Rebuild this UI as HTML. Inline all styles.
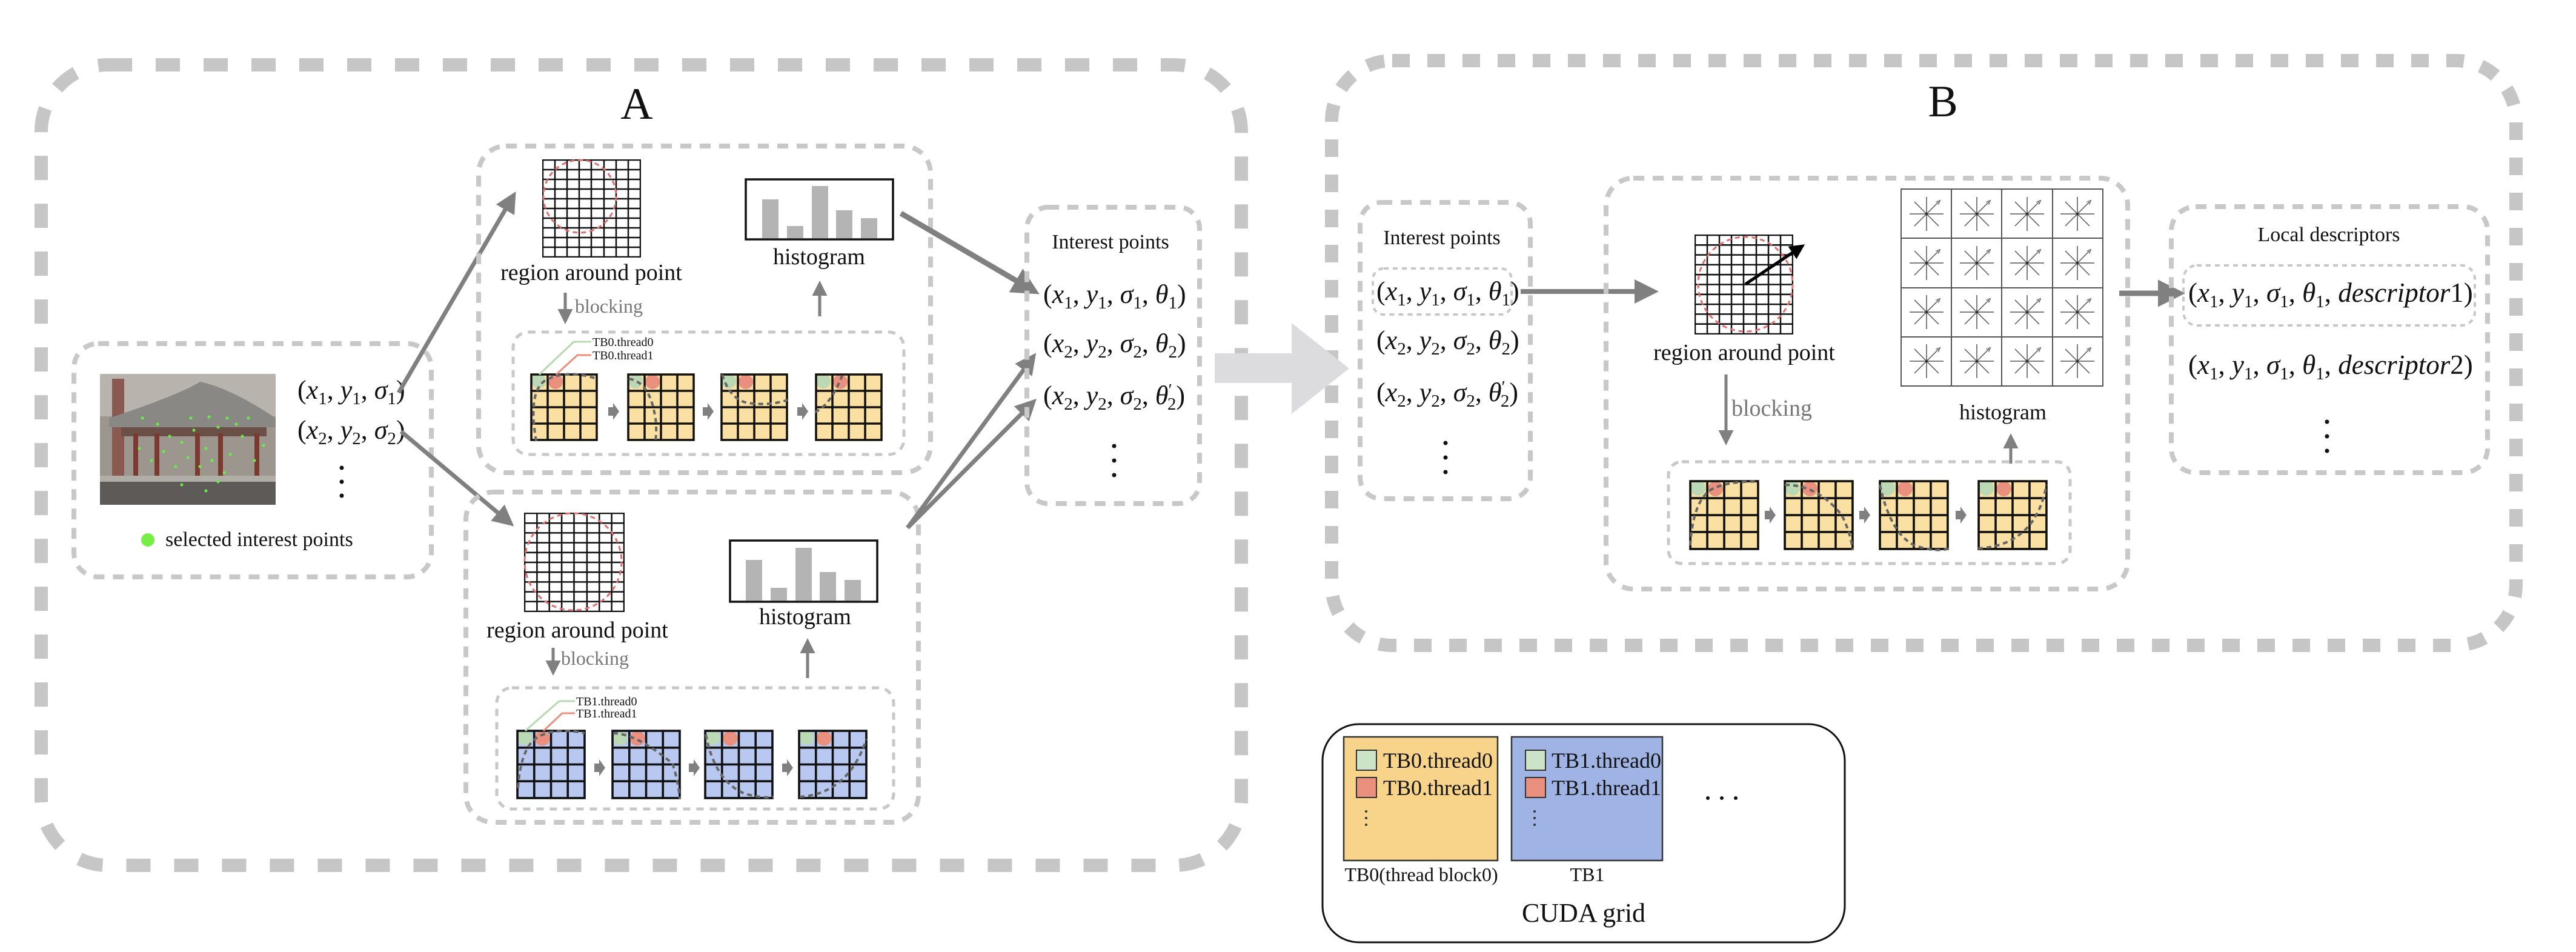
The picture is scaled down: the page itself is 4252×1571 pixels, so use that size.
<!DOCTYPE html>
<html><head><meta charset="utf-8"><style>
html,body{margin:0;padding:0;background:#fff}
svg{display:block;font-family:"Liberation Serif","Times New Roman",Times,serif}
svg text{font-family:"Liberation Serif","Times New Roman",Times,serif;fill:#111}
.i{font-style:italic}
.s{font-size:29px;font-style:normal}
</style></head><body>
<svg width="4252" height="1571" viewBox="0 0 4252 1571" xmlns="http://www.w3.org/2000/svg" font-family="Liberation Serif, Times New Roman, serif">
<defs>
<marker id="ah" viewBox="0 0 10 10" refX="8" refY="5" markerWidth="5" markerHeight="5" orient="auto"><path d="M0,0 L10,5 L0,10 z" fill="#808080"/></marker>
<marker id="ahk" viewBox="0 0 10 10" refX="8" refY="5" markerWidth="5" markerHeight="5" orient="auto"><path d="M0,0 L10,5 L0,10 z" fill="#000"/></marker>
<marker id="sa" viewBox="0 0 10 10" refX="5" refY="5" markerWidth="5" markerHeight="5" orient="auto"><path d="M0,1 L10,5 L0,9" fill="none" stroke="#555" stroke-width="1.5"/></marker>
<symbol id="gy" viewBox="0 0 112 112">
<rect x="0" y="0" width="112" height="112" fill="#fbe0a3"/>
<ellipse cx="14" cy="13" rx="12" ry="12" fill="#bcd9b6"/>
<ellipse cx="42" cy="14" rx="12" ry="12" fill="#e9907e"/>
<path d="M2,2H110V110H2Z M29,2V110 M56,2V110 M83,2V110 M2,29H110 M2,56H110 M2,83H110" fill="none" stroke="#111" stroke-width="3.5"/>
</symbol>
<symbol id="gb" viewBox="0 0 112 112">
<rect x="0" y="0" width="112" height="112" fill="#b9c8f0"/>
<ellipse cx="14" cy="13" rx="12" ry="12" fill="#bcd9b6"/>
<ellipse cx="42" cy="14" rx="12" ry="12" fill="#e9907e"/>
<path d="M2,2H110V110H2Z M29,2V110 M56,2V110 M83,2V110 M2,29H110 M2,56H110 M2,83H110" fill="none" stroke="#111" stroke-width="3.5"/>
</symbol>
<g id="star" stroke="#555" stroke-width="1.5" fill="none">
<path d="M0,0V-28 M0,0V28 M0,0H-28 M0,0H28 M0,0L-20,-20 M0,0L20,20 M0,0L-20,20 M0,0L20,-20" marker-end="url(#sa)"/>
<circle r="2" fill="#111"/>
</g>
<symbol id="bigG" viewBox="0 0 163 162" preserveAspectRatio="none">
<path d="M1,1H162V161H1Z M21,1V161 M41,1V161 M61,1V161 M81,1V161 M102,1V161 M122,1V161 M142,1V161 M1,17H162 M1,33H162 M1,49H162 M1,65H162 M1,81H162 M1,97H162 M1,113H162 M1,129H162 M1,145H162" fill="none" stroke="#111" stroke-width="2.5"/>
</symbol>
</defs>

<rect x="68" y="107" width="1981" height="1321" rx="110" fill="none" stroke="#c6c6c6" stroke-width="22" stroke-dasharray="40 39"/>
<rect x="2198" y="100" width="1955" height="965" rx="100" fill="none" stroke="#c6c6c6" stroke-width="22" stroke-dasharray="29 29"/>
<path d="M2005,583 H2132 V533 L2227,608 L2132,683 V632 H2005 Z" fill="#dcdcde"/>

<text x="1051" y="196" font-size="74" text-anchor="middle">A</text>
<text x="3207" y="192" font-size="74" text-anchor="middle">B</text>

<rect x="122" y="567" width="590" height="385" rx="40" fill="none" stroke="#c8c8c8" stroke-width="8" stroke-dasharray="18 14"/>
<g>
<rect x="165" y="617" width="290" height="216" fill="#9c968e"/>
<rect x="165" y="617" width="290" height="70" fill="#b8b3ac"/>
<rect x="185" y="625" width="20" height="160" fill="#8a5a50"/>
<path d="M180,690 Q300,650 330,630 Q380,640 455,690 L455,705 L180,705Z" fill="#8a8884"/>
<rect x="200" y="705" width="240" height="15" fill="#6a5046"/>
<rect x="220" y="715" width="8" height="70" fill="#7a3a30"/><rect x="255" y="715" width="8" height="70" fill="#7a3a30"/><rect x="322" y="715" width="8" height="70" fill="#7a3a30"/><rect x="360" y="715" width="8" height="70" fill="#7a3a30"/><rect x="420" y="715" width="8" height="70" fill="#7a3a30"/>
<rect x="165" y="785" width="290" height="48" fill="#5d5a57"/>
<rect x="165" y="785" width="290" height="10" fill="#b0aca6"/>
<g fill="#66ee44">
<circle cx="235" cy="690" r="2.5"/><circle cx="260" cy="700" r="2.5"/><circle cx="280" cy="720" r="2.5"/><circle cx="300" cy="730" r="2.5"/><circle cx="320" cy="710" r="2.5"/><circle cx="340" cy="740" r="2.5"/><circle cx="360" cy="705" r="2.5"/><circle cx="380" cy="750" r="2.5"/><circle cx="400" cy="720" r="2.5"/><circle cx="420" cy="760" r="2.5"/><circle cx="250" cy="760" r="2.5"/><circle cx="270" cy="745" r="2.5"/><circle cx="290" cy="770" r="2.5"/><circle cx="310" cy="755" r="2.5"/><circle cx="330" cy="770" r="2.5"/><circle cx="350" cy="760" r="2.5"/><circle cx="370" cy="780" r="2.5"/><circle cx="390" cy="700" r="2.5"/><circle cx="410" cy="690" r="2.5"/><circle cx="300" cy="800" r="2.5"/><circle cx="340" cy="810" r="2.5"/><circle cx="360" cy="795" r="2.5"/><circle cx="230" cy="740" r="2.5"/><circle cx="435" cy="735" r="2.5"/><circle cx="315" cy="690" r="2.5"/><circle cx="345" cy="688" r="2.5"/><circle cx="375" cy="690" r="2.5"/>
</g>
</g>
<text x="491" y="658" font-size="44">(<tspan class="i">x</tspan><tspan class="s" dy="9">1</tspan><tspan dy="-9">, </tspan><tspan class="i">y</tspan><tspan class="s" dy="9">1</tspan><tspan dy="-9">, </tspan><tspan class="i">σ</tspan><tspan class="s" dy="9">1</tspan><tspan dy="-9">)</tspan></text>
<text x="491" y="724" font-size="44">(<tspan class="i">x</tspan><tspan class="s" dy="9">2</tspan><tspan dy="-9">, </tspan><tspan class="i">y</tspan><tspan class="s" dy="9">2</tspan><tspan dy="-9">, </tspan><tspan class="i">σ</tspan><tspan class="s" dy="9">2</tspan><tspan dy="-9">)</tspan></text>
<g fill="#111"><circle cx="564" cy="772" r="3.5"/><circle cx="564" cy="795" r="3.5"/><circle cx="564" cy="818" r="3.5"/></g>
<circle cx="244" cy="891" r="11" fill="#77ee44"/>
<text x="273" y="901" font-size="34">selected interest points</text>

<line x1="658" y1="648" x2="848" y2="322" stroke="#808080" stroke-width="7" marker-end="url(#ah)"/>
<line x1="662" y1="712" x2="843" y2="864" stroke="#808080" stroke-width="7" marker-end="url(#ah)"/>

<rect x="790" y="241" width="746" height="539" rx="45" fill="none" stroke="#c8c8c8" stroke-width="8" stroke-dasharray="18 14"/>
<use href="#bigG" x="895" y="263" width="163" height="162"/>
<circle cx="957" cy="324" r="60" fill="none" stroke="#e07070" stroke-width="3" stroke-dasharray="8 6"/>
<text x="976" y="462" font-size="38" text-anchor="middle">region around point</text>
<rect x="1231" y="296" width="243" height="99" fill="#fff" stroke="#111" stroke-width="3.5"/>
<g fill="#b4b4b4"><rect x="1258" y="329" width="27" height="64"/><rect x="1299" y="373" width="27" height="20"/><rect x="1340" y="307" width="27" height="86"/><rect x="1380" y="347" width="27" height="46"/><rect x="1421" y="360" width="27" height="33"/></g>
<text x="1352" y="436" font-size="38" text-anchor="middle">histogram</text>
<line x1="933" y1="483" x2="933" y2="530" stroke="#808080" stroke-width="5" marker-end="url(#ah)"/>
<text x="949" y="516" font-size="32" style="fill:#777">blocking</text>
<line x1="1353" y1="522" x2="1353" y2="468" stroke="#808080" stroke-width="5" marker-end="url(#ah)"/>
<rect x="847" y="548" width="645" height="202" rx="25" fill="none" stroke="#c8c8c8" stroke-width="5" stroke-dasharray="12 10"/>
<use href="#gy" x="875" y="616" width="112" height="112"/>
<use href="#gy" x="1035" y="616" width="112" height="112"/>
<use href="#gy" x="1189" y="616" width="112" height="112"/>
<use href="#gy" x="1345" y="616" width="112" height="112"/>
<g fill="none" stroke="#666" stroke-width="4" stroke-dasharray="8 6">
<path d="M885,728 Q870,640 905,625 Q940,610 985,625"/>
<path d="M1038,625 Q1070,630 1080,680 Q1085,700 1082,728"/>
<path d="M1192,618 Q1205,660 1235,665 Q1270,670 1300,660"/>
<path d="M1345,680 Q1370,670 1390,620"/>
</g>
<g fill="#808080"><path d="M1004,672h8v-7l10,14l-10,14v-7h-8z"/><path d="M1160,672h8v-7l10,14l-10,14v-7h-8z"/><path d="M1316,672h8v-7l10,14l-10,14v-7h-8z"/></g>
<polyline points="890,618 947,564 976,564" fill="none" stroke="#b9d8b1" stroke-width="3"/>
<polyline points="918,618 953,586 976,586" fill="none" stroke="#e9907e" stroke-width="3"/>
<text x="978" y="571" font-size="20">TB0.thread0</text>
<text x="978" y="593" font-size="20">TB0.thread1</text>

<rect x="769" y="812" width="747" height="545" rx="45" fill="none" stroke="#c8c8c8" stroke-width="8" stroke-dasharray="18 14"/>
<use href="#bigG" x="865" y="846" width="166" height="164"/>
<circle cx="946" cy="927" r="80" fill="none" stroke="#e07070" stroke-width="3" stroke-dasharray="8 6"/>
<text x="953" y="1052" font-size="38" text-anchor="middle">region around point</text>
<rect x="1205" y="892" width="243" height="101" fill="#fff" stroke="#111" stroke-width="3.5"/>
<g fill="#b4b4b4"><rect x="1231" y="924" width="27" height="67"/><rect x="1272" y="970" width="27" height="21"/><rect x="1313" y="904" width="27" height="87"/><rect x="1353" y="944" width="27" height="47"/><rect x="1394" y="957" width="27" height="34"/></g>
<text x="1329" y="1030" font-size="38" text-anchor="middle">histogram</text>
<line x1="913" y1="1069" x2="913" y2="1110" stroke="#808080" stroke-width="5" marker-end="url(#ah)"/>
<text x="926" y="1097" font-size="32" style="fill:#777">blocking</text>
<line x1="1333" y1="1119" x2="1333" y2="1058" stroke="#808080" stroke-width="5" marker-end="url(#ah)"/>
<rect x="820" y="1135" width="655" height="200" rx="25" fill="none" stroke="#c8c8c8" stroke-width="5" stroke-dasharray="12 10"/>
<use href="#gb" x="852" y="1204" width="115" height="115"/>
<use href="#gb" x="1009" y="1204" width="115" height="115"/>
<use href="#gb" x="1162" y="1204" width="115" height="115"/>
<use href="#gb" x="1317" y="1204" width="115" height="115"/>
<g fill="none" stroke="#666" stroke-width="4" stroke-dasharray="8 6">
<path d="M855,1300 Q860,1230 890,1215 Q920,1200 965,1210"/>
<path d="M1012,1210 Q1050,1210 1110,1260 Q1120,1290 1122,1319"/>
<path d="M1165,1212 Q1180,1290 1230,1310 Q1260,1318 1277,1315"/>
<path d="M1320,1315 Q1400,1310 1430,1220"/>
</g>
<g fill="#808080"><path d="M981,1260h8v-7l10,14l-10,14v-7h-8z"/><path d="M1137,1260h8v-7l10,14l-10,14v-7h-8z"/><path d="M1291,1260h8v-7l10,14l-10,14v-7h-8z"/></g>
<polyline points="867,1206 923,1157 949,1157" fill="none" stroke="#b9d8b1" stroke-width="3"/>
<polyline points="897,1206 928,1177 949,1177" fill="none" stroke="#e9907e" stroke-width="3"/>
<text x="951" y="1164" font-size="20">TB1.thread0</text>
<text x="951" y="1184" font-size="20">TB1.thread1</text>

<line x1="1487" y1="352" x2="1708" y2="481" stroke="#808080" stroke-width="9" marker-end="url(#ah)"/>
<line x1="1498" y1="871" x2="1706" y2="588" stroke="#808080" stroke-width="7" marker-end="url(#ah)"/>
<line x1="1498" y1="871" x2="1706" y2="663" stroke="#808080" stroke-width="7" marker-end="url(#ah)"/>

<rect x="1695" y="342" width="285" height="489" rx="35" fill="none" stroke="#c8c8c8" stroke-width="8" stroke-dasharray="18 14"/>
<text x="1833" y="410" font-size="34" text-anchor="middle">Interest points</text>
<text x="1722" y="500" font-size="44">(<tspan class="i">x</tspan><tspan class="s" dy="9">1</tspan><tspan dy="-9">, </tspan><tspan class="i">y</tspan><tspan class="s" dy="9">1</tspan><tspan dy="-9">, </tspan><tspan class="i">σ</tspan><tspan class="s" dy="9">1</tspan><tspan dy="-9">, </tspan><tspan class="i">θ</tspan><tspan class="s" dy="9">1</tspan><tspan dy="-9">)</tspan></text>
<text x="1722" y="581" font-size="44">(<tspan class="i">x</tspan><tspan class="s" dy="9">2</tspan><tspan dy="-9">, </tspan><tspan class="i">y</tspan><tspan class="s" dy="9">2</tspan><tspan dy="-9">, </tspan><tspan class="i">σ</tspan><tspan class="s" dy="9">2</tspan><tspan dy="-9">, </tspan><tspan class="i">θ</tspan><tspan class="s" dy="9">2</tspan><tspan dy="-9">)</tspan></text>
<text x="1722" y="667" font-size="44">(<tspan class="i">x</tspan><tspan class="s" dy="9">2</tspan><tspan dy="-9">, </tspan><tspan class="i">y</tspan><tspan class="s" dy="9">2</tspan><tspan dy="-9">, </tspan><tspan class="i">σ</tspan><tspan class="s" dy="9">2</tspan><tspan dy="-9">, </tspan><tspan class="i">θ</tspan><tspan class="s" dy="-14">′</tspan><tspan class="s" dx="-8" dy="23">2</tspan><tspan dy="-9">)</tspan></text>
<g fill="#111"><circle cx="1839" cy="736" r="3.5"/><circle cx="1839" cy="760" r="3.5"/><circle cx="1839" cy="784" r="3.5"/></g>

<rect x="2245" y="334" width="281" height="489" rx="35" fill="none" stroke="#c8c8c8" stroke-width="8" stroke-dasharray="18 14"/>
<text x="2380" y="403" font-size="34" text-anchor="middle">Interest points</text>
<rect x="2266" y="443" width="229" height="76" rx="18" fill="none" stroke="#c8c8c8" stroke-width="4" stroke-dasharray="8 7"/>
<text x="2272" y="495" font-size="44">(<tspan class="i">x</tspan><tspan class="s" dy="9">1</tspan><tspan dy="-9">, </tspan><tspan class="i">y</tspan><tspan class="s" dy="9">1</tspan><tspan dy="-9">, </tspan><tspan class="i">σ</tspan><tspan class="s" dy="9">1</tspan><tspan dy="-9">, </tspan><tspan class="i">θ</tspan><tspan class="s" dy="9">1</tspan><tspan dy="-9">)</tspan></text>
<text x="2272" y="576" font-size="44">(<tspan class="i">x</tspan><tspan class="s" dy="9">2</tspan><tspan dy="-9">, </tspan><tspan class="i">y</tspan><tspan class="s" dy="9">2</tspan><tspan dy="-9">, </tspan><tspan class="i">σ</tspan><tspan class="s" dy="9">2</tspan><tspan dy="-9">, </tspan><tspan class="i">θ</tspan><tspan class="s" dy="9">2</tspan><tspan dy="-9">)</tspan></text>
<text x="2272" y="662" font-size="44">(<tspan class="i">x</tspan><tspan class="s" dy="9">2</tspan><tspan dy="-9">, </tspan><tspan class="i">y</tspan><tspan class="s" dy="9">2</tspan><tspan dy="-9">, </tspan><tspan class="i">σ</tspan><tspan class="s" dy="9">2</tspan><tspan dy="-9">, </tspan><tspan class="i">θ</tspan><tspan class="s" dy="-14">′</tspan><tspan class="s" dx="-8" dy="23">2</tspan><tspan dy="-9">)</tspan></text>
<g fill="#111"><circle cx="2386" cy="731" r="3.5"/><circle cx="2386" cy="755" r="3.5"/><circle cx="2386" cy="779" r="3.5"/></g>
<line x1="2510" y1="481" x2="2730" y2="481" stroke="#808080" stroke-width="8" marker-end="url(#ah)"/>

<rect x="2651" y="294" width="861" height="678" rx="45" fill="none" stroke="#c8c8c8" stroke-width="8" stroke-dasharray="18 14"/>
<use href="#bigG" x="2797" y="387" width="163" height="165"/>
<circle cx="2881" cy="469" r="78" fill="none" stroke="#e07070" stroke-width="3" stroke-dasharray="8 6"/>
<line x1="2881" y1="469" x2="2975" y2="406" stroke="#000" stroke-width="5" marker-end="url(#ahk)"/>
<text x="2879" y="594" font-size="38" text-anchor="middle">region around point</text>
<line x1="2849" y1="618" x2="2849" y2="730" stroke="#808080" stroke-width="5" marker-end="url(#ah)"/>
<text x="2858" y="686" font-size="38" style="fill:#777">blocking</text>
<rect x="3138" y="312" width="333" height="325" fill="#fff" stroke="#555" stroke-width="2"/>
<path d="M3221,312V637 M3304,312V637 M3388,312V637 M3138,393H3471 M3138,475H3471 M3138,556H3471" stroke="#555" stroke-width="2"/>
<use href="#star" x="3180" y="353"/><use href="#star" x="3263" y="353"/><use href="#star" x="3346" y="353"/><use href="#star" x="3429" y="353"/>
<use href="#star" x="3180" y="434"/><use href="#star" x="3263" y="434"/><use href="#star" x="3346" y="434"/><use href="#star" x="3429" y="434"/>
<use href="#star" x="3180" y="515"/><use href="#star" x="3263" y="515"/><use href="#star" x="3346" y="515"/><use href="#star" x="3429" y="515"/>
<use href="#star" x="3180" y="596"/><use href="#star" x="3263" y="596"/><use href="#star" x="3346" y="596"/><use href="#star" x="3429" y="596"/>
<text x="3306" y="692" font-size="36" text-anchor="middle">histogram</text>
<line x1="3319" y1="765" x2="3319" y2="720" stroke="#808080" stroke-width="5" marker-end="url(#ah)"/>
<rect x="2754" y="762" width="663" height="168" rx="22" fill="none" stroke="#c8c8c8" stroke-width="5" stroke-dasharray="12 10"/>
<use href="#gy" x="2788" y="792" width="116" height="116"/>
<use href="#gy" x="2944" y="792" width="116" height="116"/>
<use href="#gy" x="3100" y="792" width="118" height="116"/>
<use href="#gy" x="3262" y="792" width="120" height="116"/>
<g fill="none" stroke="#666" stroke-width="4" stroke-dasharray="8 6">
<path d="M2790,900 Q2795,820 2830,805 Q2860,793 2904,795"/>
<path d="M2946,800 Q3000,800 3040,850 Q3055,880 3058,908"/>
<path d="M3103,800 Q3120,880 3160,900 Q3195,912 3218,905"/>
<path d="M3265,905 Q3360,900 3378,800"/>
</g>
<g fill="#808080"><path d="M2913,843h8v-7l10,14l-10,14v-7h-8z"/><path d="M3069,843h8v-7l10,14l-10,14v-7h-8z"/><path d="M3228,843h8v-7l10,14l-10,14v-7h-8z"/></g>
<line x1="3498" y1="484" x2="3598" y2="484" stroke="#808080" stroke-width="9" marker-end="url(#ah)"/>

<rect x="3584" y="341" width="522" height="439" rx="40" fill="none" stroke="#c8c8c8" stroke-width="8" stroke-dasharray="18 14"/>
<text x="3844" y="398" font-size="34" text-anchor="middle">Local descriptors</text>
<rect x="3604" y="438" width="481" height="99" rx="22" fill="none" stroke="#c8c8c8" stroke-width="4" stroke-dasharray="8 7"/>
<text x="3612" y="498" font-size="45">(<tspan class="i">x</tspan><tspan class="s" dy="9">1</tspan><tspan dy="-9">, </tspan><tspan class="i">y</tspan><tspan class="s" dy="9">1</tspan><tspan dy="-9">, </tspan><tspan class="i">σ</tspan><tspan class="s" dy="9">1</tspan><tspan dy="-9">, </tspan><tspan class="i">θ</tspan><tspan class="s" dy="9">1</tspan><tspan dy="-9">, </tspan><tspan class="i">descriptor</tspan>1)</text>
<text x="3612" y="617" font-size="45">(<tspan class="i">x</tspan><tspan class="s" dy="9">1</tspan><tspan dy="-9">, </tspan><tspan class="i">y</tspan><tspan class="s" dy="9">1</tspan><tspan dy="-9">, </tspan><tspan class="i">σ</tspan><tspan class="s" dy="9">1</tspan><tspan dy="-9">, </tspan><tspan class="i">θ</tspan><tspan class="s" dy="9">1</tspan><tspan dy="-9">, </tspan><tspan class="i">descriptor</tspan>2)</text>
<g fill="#111"><circle cx="3841" cy="696" r="3.5"/><circle cx="3841" cy="720" r="3.5"/><circle cx="3841" cy="744" r="3.5"/></g>

<rect x="2183" y="1195" width="862" height="360" rx="60" fill="#fff" stroke="#111" stroke-width="3"/>
<rect x="2218" y="1216" width="254" height="204" fill="#f7d48a" stroke="#333" stroke-width="2.5"/>
<rect x="2495" y="1216" width="249" height="204" fill="#9fb4e4" stroke="#333" stroke-width="2.5"/>
<rect x="2239" y="1238" width="33" height="33" fill="#cde3c7" stroke="#333" stroke-width="2"/>
<rect x="2239" y="1283" width="33" height="33" fill="#e9907e" stroke="#333" stroke-width="2"/>
<rect x="2518" y="1238" width="33" height="33" fill="#cde3c7" stroke="#333" stroke-width="2"/>
<rect x="2518" y="1283" width="33" height="33" fill="#e9907e" stroke="#333" stroke-width="2"/>
<text x="2283" y="1267" font-size="36">TB0.thread0</text>
<text x="2283" y="1312" font-size="36">TB0.thread1</text>
<text x="2561" y="1267" font-size="36">TB1.thread0</text>
<text x="2561" y="1312" font-size="36">TB1.thread1</text>
<g fill="#333"><circle cx="2255" cy="1339" r="2"/><circle cx="2255" cy="1350" r="2"/><circle cx="2255" cy="1361" r="2"/><circle cx="2533" cy="1339" r="2"/><circle cx="2533" cy="1350" r="2"/><circle cx="2533" cy="1361" r="2"/></g>
<g fill="#111"><circle cx="2819" cy="1317" r="3"/><circle cx="2842" cy="1317" r="3"/><circle cx="2865" cy="1317" r="3"/></g>
<text x="2346" y="1454" font-size="32" text-anchor="middle">TB0(thread block0)</text>
<text x="2620" y="1454" font-size="32" text-anchor="middle">TB1</text>
<text x="2614" y="1521" font-size="44" text-anchor="middle">CUDA grid</text>
</svg>
</body></html>
